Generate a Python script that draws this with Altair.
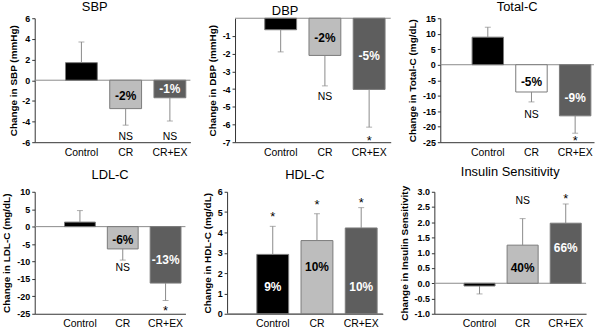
import altair as alt
import pandas as pd

groups = ["Control", "CR", "CR+EX"]

# ---- values ----
sbp_mean = [1.7, -2.75, -1.7]
sbp_err = [3.7, -4.35, -3.95]
sbp_pct = ["", "-2%", "-1%"]
sbp_pct_y = [0, -1.55, -0.87]
sbp_sig = ["", "NS", "NS"]
sbp_sig_y = [0, -5.5, -5.5]

dbp_mean = [-0.65, -2.1, -4.02]
dbp_err = [-1.9, -3.82, -6.15]
dbp_pct = ["", "-2%", "-5%"]
dbp_pct_y = [0, -1.1, -2.14]
dbp_sig = ["", "NS", "*"]
dbp_sig_y = [0, -4.47, -6.75]

tc_mean = [8.9, -8.8, -16.5]
tc_err = [12.1, -12.0, -22.1]
tc_pct = ["", "-5%", "-9%"]
tc_pct_y = [0, -5.6, -10.9]
tc_sig = ["", "NS", "*"]
tc_sig_y = [0, -16.3, -23.7]

ldl_mean = [1.3, -6.4, -16.2]
ldl_err = [4.6, -9.6, -21.2]
ldl_pct = ["", "-6%", "-13%"]
ldl_pct_y = [0, -3.9, -9.6]
ldl_sig = ["", "NS", "*"]
ldl_sig_y = [0, -11.9, -23.3]

hdl_mean = [2.92, 3.6, 4.22]
hdl_err = [4.3, 4.92, 5.22]
hdl_pct = ["9%", "10%", "10%"]
hdl_pct_y = [1.3, 2.28, 1.3]
hdl_sig = ["*", "*", "*"]
hdl_sig_y = [4.88, 5.49, 5.57]

ins_mean = [-0.09, 1.25, 1.97]
ins_err = [-0.35, 2.12, 2.6]
ins_pct = ["", "40%", "66%"]
ins_pct_y = [0, 0.51, 1.16]
ins_sig = ["", "NS", "*"]
ins_sig_y = [0, 2.71, 2.87]

fills_default = ["#000000", "#bdbdbd", "#5e5e5e"]
fills_white = ["#000000", "#ffffff", "#5e5e5e"]
text_colors = ["#ffffff", "#000000", "#ffffff"]

FONT = "Liberation Sans"


def panel(title, ytitle, domain, ticks, fmt, mean, err, pct, pct_y, sig, sig_y,
          fills, width, height, align, title_offset, title_dx=0, title_pad=5):
    df = pd.DataFrame({
        "g": groups, "m": mean, "e": err, "fill": fills,
        "pct": pct, "py": pct_y, "pc": text_colors, "s": sig, "sy": sig_y,
    })
    xscale = alt.Scale(domain=groups, paddingInner=0.28, paddingOuter=0.4, align=align)
    xaxis = alt.Axis(title=None, labelAngle=0, ticks=False, labelPadding=5,
                     labelFontSize=10.5, labelColor="#000", domainColor="#333",
                     labelFont=FONT)
    x = alt.X("g:N", sort=groups, scale=xscale, axis=xaxis)

    def yenc(field):
        return alt.Y(field, type="quantitative",
                     scale=alt.Scale(domain=domain, nice=False, zero=False),
                     axis=alt.Axis(title=ytitle, values=ticks, format=fmt, grid=False,
                                   labelExpr="replace(datum.label, '\u2212', '-')",
                                   labelFontSize=9, labelFontWeight="bold",
                                   labelColor="#000", labelPadding=2, tickSize=3,
                                   tickColor="#333", domainColor="#333",
                                   titleFontSize=10, titleFontWeight="bold",
                                   titleColor="#000", titlePadding=title_pad,
                                   labelFont=FONT, titleFont=FONT))

    base = alt.Chart(df)
    zero = alt.Chart(pd.DataFrame({"z": [0]})).mark_rule(color="#8a8a8a", strokeWidth=1).encode(
        y=yenc("z"))
    bars = base.mark_bar(stroke="#7a7a7a", strokeWidth=1).encode(
        x=x, y=yenc("m"), y2=alt.datum(0),
        fill=alt.Fill("fill:N", scale=None))
    rule = base.mark_rule(color="#8a8a8a", strokeWidth=1).encode(
        x=x, y=yenc("m"), y2="e:Q")
    cap = base.mark_tick(color="#8a8a8a", size=6, thickness=1, orient="horizontal").encode(
        x=x, y=yenc("e"))
    pct_text = base.transform_filter("datum.pct != ''").mark_text(
        font=FONT, fontSize=12, fontWeight="bold", baseline="middle").encode(
        x=x, y=yenc("py"), text="pct:N", color=alt.Color("pc:N", scale=None))
    ns_text = base.transform_filter("datum.s == 'NS'").mark_text(
        font=FONT, fontSize=10.5, baseline="middle", color="#000").encode(
        x=x, y=yenc("sy"), text="s:N")
    star_text = base.transform_filter("datum.s == '*'").mark_text(
        font=FONT, fontSize=13, baseline="middle", dy=3, color="#000").encode(
        x=x, y=yenc("sy"), text="s:N")

    return alt.layer(zero, bars, rule, cap, pct_text, ns_text, star_text).properties(
        width=width, height=height,
        title=alt.TitleParams(title, fontSize=13, fontWeight="normal", font=FONT,
                              color="#000", offset=title_offset, anchor="middle",
                              frame="group", dx=title_dx),
    )


p_sbp = panel("SBP", "Change in SBP (mmHg)", [-6, 6], [-6, -4, -2, 0, 2, 4, 6], "d",
              sbp_mean, sbp_err, sbp_pct, sbp_pct_y, sbp_sig, sbp_sig_y,
              fills_default, 157, 125, 0.87, 0, -18, 3)
p_dbp = panel("DBP", "Change in DBP (mmHg)", [-7, 0], [-1, -2, -3, -4, -5, -6, -7], "d",
              dbp_mean, dbp_err, dbp_pct, dbp_pct_y, dbp_sig, dbp_sig_y,
              fills_default, 157, 125, 0.84, 0, -28)
p_tc = panel("Total-C", "Change in Total-C (mg/dL)", [-25, 15],
             [-25, -20, -15, -10, -5, 0, 5, 10, 15], "d",
             tc_mean, tc_err, tc_pct, tc_pct_y, tc_sig, tc_sig_y,
             fills_white, 155, 125, 0.91, 0)
p_ldl = panel("LDL-C", "Change in LDL-C (mg/dL)", [-25, 10],
              [-25, -20, -15, -10, -5, 0, 5, 10], "d",
              ldl_mean, ldl_err, ldl_pct, ldl_pct_y, ldl_sig, ldl_sig_y,
              fills_default, 152, 123, 0.87, 6)
p_hdl = panel("HDL-C", "Change in HDL-C (mg/dL)", [0, 6], [0, 1, 2, 3, 4, 5, 6], "d",
              hdl_mean, hdl_err, hdl_pct, hdl_pct_y, hdl_sig, hdl_sig_y,
              fills_default, 157, 123, 0.84, 6)
p_ins = panel("Insulin Sensitivity", "Change in Insulin Sensitivity", [-1, 3],
              [-1, -0.5, 0, 0.5, 1, 1.5, 2, 2.5, 3], ".1f",
              ins_mean, ins_err, ins_pct, ins_pct_y, ins_sig, ins_sig_y,
              fills_default, 153, 123, 0.86, 6)

row1 = alt.hconcat(p_sbp, p_dbp, p_tc, spacing=15)
row2 = alt.hconcat(p_ldl, p_hdl, p_ins, spacing=15)

chart = alt.vconcat(row1, row2, spacing=8).configure(
    padding={"left": 1, "top": 0, "right": 0, "bottom": 0},
    background="#ffffff",
).configure_view(stroke=None)

chart.save("out.html", embed_options={"renderer": "svg", "actions": False})
